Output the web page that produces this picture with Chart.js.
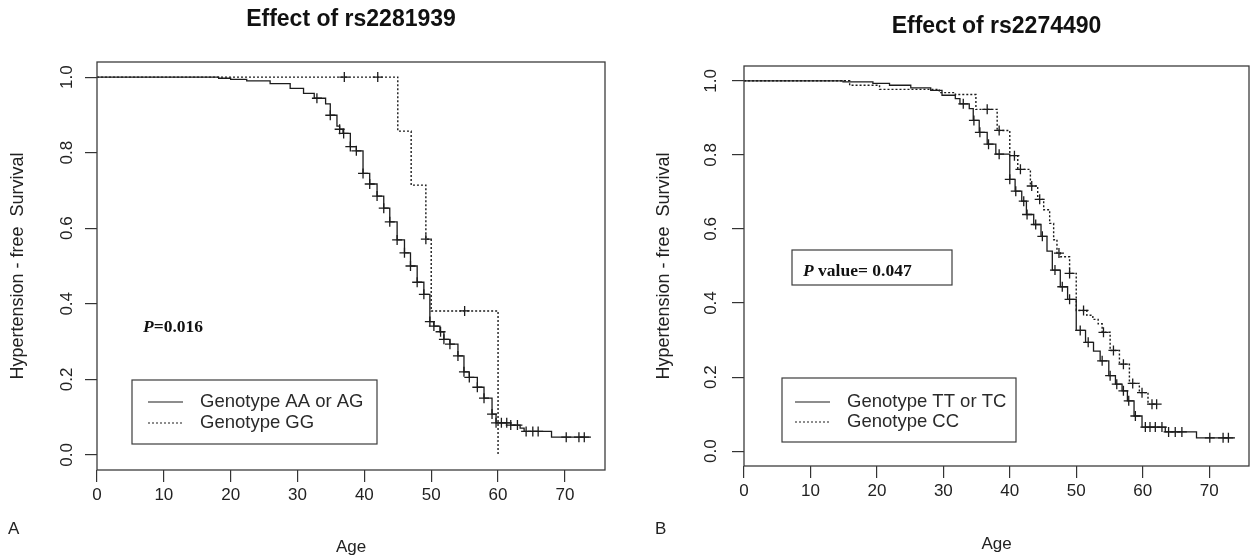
<!DOCTYPE html>
<html>
<head>
<meta charset="utf-8">
<script src="https://cdn.jsdelivr.net/npm/chart.js@4.4.1/dist/chart.umd.min.js"></script>
<style>
  body { margin: 0; background: #fff; }
  .wrap { position: relative; width: 1256px; height: 559px; }
  canvas { position: absolute; top: 0; }
</style>
</head>
<body>
<div class="wrap">
  <canvas id="survA" width="628" height="559" style="left:0"></canvas>
  <canvas id="survB" width="628" height="559" style="left:628px"></canvas>
</div>
<script>
// axis ranges / ticks (shared by both panels)
const ageMin = 0, ageMax = 76, ageStep = 10;
const survMin = -0.04, survMax = 1.04, survStep = 0.2;

// Panel A - rs2281939, genotype AA or AG (solid)
const aSolidTimes = [0, 18.2, 20, 22.4, 25.9, 28.9, 30.9, 32.5, 34.2, 34.9, 35.9, 36.3, 36.8, 37.9, 38.8, 39.8, 40.8, 41.9, 42.9, 43.8,
  44.9, 46.0, 46.9, 47.9, 48.9, 49.8, 50.4, 51.3, 51.9, 52.8, 54.0, 54.9, 55.7, 56.9, 57.9, 59.1, 59.7, 61.9, 63.3, 63.9, 68.0];
const aSolidSurv = [1, 0.997, 0.994, 0.990, 0.983, 0.970, 0.957, 0.944, 0.929, 0.899, 0.870, 0.862, 0.851, 0.816, 0.805, 0.745, 0.717, 0.685, 0.653, 0.617,
  0.569, 0.535, 0.500, 0.457, 0.425, 0.353, 0.341, 0.326, 0.306, 0.293, 0.262, 0.220, 0.205, 0.179, 0.150, 0.108, 0.085, 0.079, 0.071, 0.062, 0.047];
const aSolidEnd = 73.9;
const aSolidCensor = [32.9, 34.9, 36.3, 36.9, 37.9, 38.8, 39.8, 40.8, 41.9, 42.9, 43.8, 44.9, 46.0, 46.9, 47.9, 48.9, 49.8, 50.4, 51.4,
  51.9, 52.8, 54.0, 54.9, 55.7, 56.9, 57.9, 59.1, 59.7, 60.5, 61.3, 61.9, 62.9, 64.2, 65.2, 66.0, 70.2, 72.1, 72.9];

// Panel A - genotype GG (dotted)
const aDotTimes = [0, 45, 47, 49.2, 50, 60];
const aDotSurv = [1, 0.857, 0.714, 0.571, 0.381, 0];
const aDotEnd = 60;
const aDotCensor = [37, 42, 49.2, 55];

// Panel B - rs2274490, genotype TT or TC (solid)
const bSolidTimes = [0, 14.9, 19.4, 21.9, 25.1, 28.1, 29.8, 31.8, 32.5, 33.9, 34.5, 35.4, 36.6, 37.9, 40.0, 40.8, 41.8, 42.5, 43.6, 44.7,
  45.6, 46.4, 47.6, 48.7, 50.0, 51.4, 52.6, 53.6, 54.9, 55.9, 56.9, 57.7, 58.7, 59.9, 63.4, 68.1];
const bSolidSurv = [1, 0.997, 0.993, 0.988, 0.981, 0.974, 0.961, 0.952, 0.938, 0.925, 0.893, 0.861, 0.829, 0.802, 0.734, 0.702, 0.675, 0.639, 0.612, 0.580,
  0.540, 0.489, 0.444, 0.410, 0.326, 0.294, 0.270, 0.244, 0.204, 0.181, 0.163, 0.136, 0.095, 0.065, 0.052, 0.036];
const bSolidEnd = 73.9;
const bSolidCensor = [33.0, 34.6, 35.5, 36.8, 38.4, 40.0, 40.9, 42.1, 42.6, 43.9, 44.9, 46.8, 47.9, 49.0, 50.6, 51.8, 53.9, 55.1, 56.1,
  57.1, 57.9, 58.9, 60.4, 61.1, 61.9, 62.9, 63.9, 64.9, 65.9, 70.1, 72.1, 72.9];

// Panel B - genotype CC (dotted)
const bDotTimes = [0, 15.9, 20.4, 29.4, 31.8, 34.9, 38.1, 40.0, 41.2, 43.1, 44.2, 45.1, 46.0, 46.6, 47.1, 47.6, 49.0, 50.0, 51.6, 52.5,
  53.3, 53.9, 55.1, 56.5, 58.0, 59.5, 60.8];
const bDotSurv = [1, 0.988, 0.977, 0.968, 0.963, 0.923, 0.866, 0.798, 0.761, 0.716, 0.680, 0.652, 0.615, 0.571, 0.535, 0.525, 0.480, 0.380, 0.367, 0.356,
  0.344, 0.321, 0.272, 0.235, 0.183, 0.158, 0.127];
const bDotEnd = 62.1;
const bDotCensor = [36.6, 38.4, 40.7, 41.6, 43.3, 44.5, 47.4, 49.0, 51.1, 54.1, 55.6, 57.1, 58.5, 59.9, 61.4, 62.1];

const ink = '#1c1c1c';
const sans = "'Liberation Sans', Arial, sans-serif";
const serif = "'Liberation Serif', 'Times New Roman', serif";

function stepPoints(times, surv, end) {
  const pts = times.map((t, i) => ({ x: t, y: surv[i] }));
  pts.push({ x: end, y: surv[surv.length - 1] });
  return pts;
}

// survival level at time t (right-continuous step)
function survAt(times, surv, t) {
  let s = surv[0];
  for (let i = 0; i < times.length; i++) {
    if (times[i] <= t) s = surv[i];
  }
  return s;
}

function censorPoints(censor, times, surv) {
  return censor.map(t => ({ x: t, y: survAt(times, surv, t) }));
}

function curveSets(times, surv, end, censor, dotted) {
  return [
    {
      data: stepPoints(times, surv, end),
      stepped: 'before',
      borderColor: ink,
      borderWidth: dotted ? 1.4 : 1.3,
      borderDash: dotted ? [2, 2] : [],
      pointRadius: 0,
      fill: false
    },
    {
      data: censorPoints(censor, times, surv),
      showLine: false,
      pointStyle: 'cross',
      pointRadius: 5,
      pointBorderWidth: 1.3,
      pointBorderColor: ink,
      borderColor: ink
    }
  ];
}

// frame box, legend, p-value, panel letter
const extrasPlugin = {
  id: 'extras',
  afterDraw(chart, args, o) {
    const { ctx, chartArea: a } = chart;
    ctx.save();
    ctx.strokeStyle = '#3c3c3c';
    ctx.lineWidth = 1.3;
    ctx.strokeRect(a.left, a.top, a.right - a.left, a.bottom - a.top);

    // legend box
    const lg = o.legend;
    ctx.lineWidth = 1.2;
    ctx.strokeRect(lg.x, lg.y, lg.w, lg.h);
    ctx.strokeStyle = ink;
    ctx.lineWidth = 1.2;
    ctx.beginPath();
    ctx.moveTo(lg.lineX, lg.row1); ctx.lineTo(lg.lineX + 35, lg.row1);
    ctx.stroke();
    ctx.setLineDash([2, 2]);
    ctx.beginPath();
    ctx.moveTo(lg.lineX, lg.row2); ctx.lineTo(lg.lineX + 35, lg.row2);
    ctx.stroke();
    ctx.setLineDash([]);
    ctx.fillStyle = '#2a2a2a';
    ctx.font = '18.5px ' + sans;
    ctx.textBaseline = 'middle';
    ctx.textAlign = 'left';
    ctx.fillText(lg.labels[0], lg.textX, lg.row1);
    ctx.fillText(lg.labels[1], lg.textX, lg.row2);

    // p value
    const p = o.pValue;
    if (p.box) {
      ctx.strokeStyle = '#3c3c3c';
      ctx.strokeRect(p.box.x, p.box.y, p.box.w, p.box.h);
    }
    ctx.fillStyle = '#111';
    ctx.font = 'italic bold 17.5px ' + serif;
    ctx.fillText('P', p.x, p.y);
    const pw = ctx.measureText('P').width;
    ctx.font = 'bold 17.5px ' + serif;
    ctx.fillText(p.text, p.x + pw, p.y);

    // panel letter
    ctx.font = '17px ' + sans;
    ctx.fillStyle = '#222';
    ctx.fillText(o.letter.text, o.letter.x, o.letter.y);
    ctx.restore();
  }
};

function makeChart(id, cfg) {
  return new Chart(document.getElementById(id), {
    type: 'line',
    data: { datasets: cfg.datasets },
    plugins: [extrasPlugin],
    options: {
      responsive: false,
      animation: false,
      events: [],
      devicePixelRatio: 1,
      layout: { padding: { left: 0, right: cfg.padRight, top: 0, bottom: 0 } },
      plugins: {
        legend: { display: false },
        tooltip: { enabled: false },
        title: {
          display: true,
          text: cfg.title,
          fullSize: false,
          color: '#111',
          font: { family: sans, size: 23, weight: 'bold' },
          padding: { top: cfg.titleTop, bottom: cfg.titleBottom }
        },
        extras: cfg.extras
      },
      scales: {
        x: {
          type: 'linear',
          min: ageMin,
          max: ageMax,
          afterFit: s => { s.height = cfg.xHeight; },
          border: { display: false },
          grid: { drawOnChartArea: false, tickLength: 12, color: '#333', lineWidth: 1.2 },
          ticks: {
            stepSize: ageStep,
            includeBounds: false,
            color: '#222',
            padding: 3,
            font: { family: sans, size: 17 }
          },
          title: {
            display: true,
            text: 'Age',
            color: '#222',
            font: { family: sans, size: 17 },
            padding: { top: 0, bottom: cfg.xTitleBottom }
          }
        },
        y: {
          min: survMin,
          max: survMax,
          afterFit: s => { s.width = cfg.yWidth; },
          border: { display: false },
          grid: { drawOnChartArea: false, tickLength: 12, color: '#333', lineWidth: 1.2 },
          ticks: {
            stepSize: survStep,
            includeBounds: false,
            minRotation: 90,
            maxRotation: 90,
            crossAlign: 'center',
            padding: cfg.yTickPad,
            color: '#222',
            font: { family: sans, size: 17 },
            callback: v => Number(v).toFixed(1)
          },
          title: {
            display: true,
            text: 'Hypertension - free  Survival',
            color: '#222',
            font: { family: sans, size: 18 },
            padding: { top: cfg.yTitleTop, bottom: 0 }
          }
        }
      }
    }
  });
}

makeChart('survA', {
  title: 'Effect of rs2281939',
  titleTop: 6.2,
  titleBottom: 28.2,
  padRight: 23,
  xHeight: 89,
  yWidth: 97,
  yTickPad: 6,
  xTitleBottom: 1.8,
  yTitleTop: 7.2,
  datasets: [
    ...curveSets(aSolidTimes, aSolidSurv, aSolidEnd, aSolidCensor, false),
    ...curveSets(aDotTimes, aDotSurv, aDotEnd, aDotCensor, true)
  ],
  extras: {
    legend: { x: 132, y: 380, w: 245, h: 64, lineX: 148, row1: 402, row2: 423, textX: 200,
      labels: ['Genotype AA or AG', 'Genotype GG'] },
    pValue: { x: 143, y: 327, text: '=0.016' },
    letter: { text: 'A', x: 8, y: 529 }
  }
});

makeChart('survB', {
  title: 'Effect of rs2274490',
  titleTop: 13.2,
  titleBottom: 25.2,
  padRight: 7,
  xHeight: 93,
  yWidth: 116,
  yTickPad: 9,
  xTitleBottom: 4.8,
  yTitleTop: 25.2,
  datasets: [
    ...curveSets(bSolidTimes, bSolidSurv, bSolidEnd, bSolidCensor, false),
    ...curveSets(bDotTimes, bDotSurv, bDotEnd, bDotCensor, true)
  ],
  extras: {
    legend: { x: 154, y: 378, w: 234, h: 64, lineX: 167, row1: 402, row2: 422, textX: 219,
      labels: ['Genotype TT or TC', 'Genotype CC'] },
    pValue: { box: { x: 164, y: 250, w: 160, h: 35 }, x: 175, y: 271, text: ' value= 0.047' },
    letter: { text: 'B', x: 27, y: 529 }
  }
});
</script>
</body>
</html>
